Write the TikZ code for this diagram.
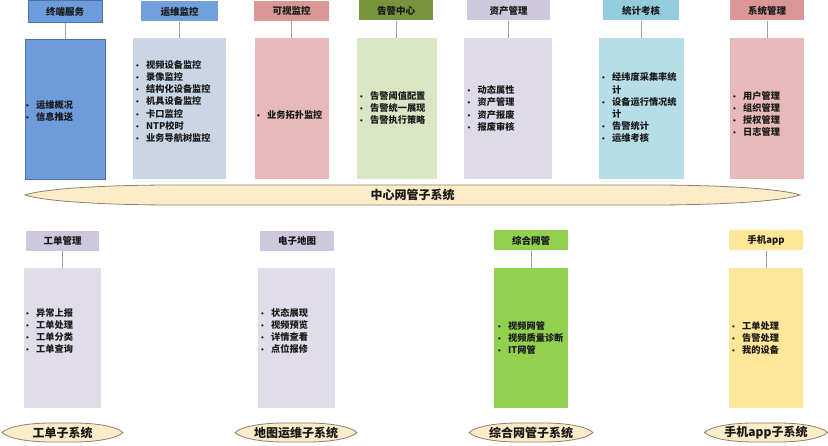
\documentclass[tikz,border=0pt]{standalone}
\usepackage{fontspec}
\setmainfont{Noto Sans CJK SC}
\newfontfamily\bulf{Liberation Sans}
\definecolor{hA}{HTML}{6E9BD9}
\definecolor{bA}{HTML}{6E9BDC}
\definecolor{bdA}{HTML}{4A72A8}
\definecolor{hB}{HTML}{72A0DD}
\definecolor{bB}{HTML}{C9D6E6}
\definecolor{hC}{HTML}{DA9796}
\definecolor{bC}{HTML}{E7B9B8}
\definecolor{hD}{HTML}{77933C}
\definecolor{bD}{HTML}{D9E5C3}
\definecolor{hE}{HTML}{CDC8DC}
\definecolor{bE}{HTML}{DEDAE8}
\definecolor{hF}{HTML}{93CDDD}
\definecolor{bF}{HTML}{B7DDE8}
\definecolor{hG}{HTML}{DA9796}
\definecolor{bG}{HTML}{E7B9B8}
\definecolor{hL}{HTML}{CFC7DD}
\definecolor{bL}{HTML}{E0DCEA}
\definecolor{gN}{HTML}{92D050}
\definecolor{yA}{HTML}{FFE699}
\definecolor{ellfill}{HTML}{FCECC8}
\definecolor{ellborder}{HTML}{8C8272}
\definecolor{linkgray}{HTML}{A0A0A0}
\newcommand\bu{\makebox[10pt][l]{\bulf\mdseries\fontsize{8}{10}\selectfont •}}
% lens-shaped outline: centre x, centre y, half width, half height, taper length
\newcommand\lensshape[5]{%
  \path[lensbox] ({#1-#3},#2)
    .. controls ({#1-#3+0.12*#5},{#2-0.6*#4}) and ({#1-#3+0.5*#5},{#2-#4}) .. ({#1-#3+#5},{#2-#4})
    -- ({#1+#3-#5},{#2-#4})
    .. controls ({#1+#3-0.5*#5},{#2-#4}) and ({#1+#3-0.12*#5},{#2-0.6*#4}) .. ({#1+#3},#2)
    .. controls ({#1+#3-0.12*#5},{#2+0.6*#4}) and ({#1+#3-0.5*#5},{#2+#4}) .. ({#1+#3-#5},{#2+#4})
    -- ({#1-#3+#5},{#2+#4})
    .. controls ({#1-#3+0.5*#5},{#2+#4}) and ({#1-#3+0.12*#5},{#2+0.6*#4}) .. cycle;}
\tikzset{
  hdr/.style={rectangle, inner sep=0pt, minimum height=20pt, font=\bfseries\fontsize{9.5}{11}\selectfont, text=black!90},
  bodybox/.style={rectangle, inner sep=0pt, minimum height=141pt},
  lst/.style={anchor=west, align=left, inner sep=0pt, text=black!90, font=\bfseries\fontsize{9.2}{12.2}\selectfont},
  link/.style={draw=linkgray, line width=1pt},
  lensbox/.style={fill=ellfill, draw=ellborder, line width=0.8pt},
  subtext/.style={inner sep=0pt, text=black!90, font=\bfseries\fontsize{12}{14}\selectfont},
}
\begin{document}
\begin{tikzpicture}[x=1pt,y=-1pt]
\fill[white] (0,0) rectangle (828,446);
\useasboundingbox (0,0) rectangle (828,446);

% ---- top row headers
\node[hdr, fill=hA, draw=bdA, line width=0.6pt, minimum width=74pt, minimum height=22pt] (h1) at (65,11.5) {终端服务};
\node[hdr, fill=hB, minimum width=77pt] (h2) at (179.5,11.5) {运维监控};
\node[hdr, fill=hC, minimum width=75pt] (h3) at (291.5,11) {可视监控};
\node[hdr, fill=hD, minimum width=74pt] (h4) at (396,10.5) {告警中心};
\node[hdr, fill=hE, minimum width=83pt] (h5) at (508.5,10.5) {资产管理};
\node[hdr, fill=hF, minimum width=76pt] (h6) at (641,10.5) {统计考核};
\node[hdr, fill=hG, minimum width=74pt] (h7) at (767,10.5) {系统管理};

% ---- top row bodies
\node[bodybox, fill=bA, draw=bdA, line width=0.6pt, minimum width=80pt, minimum height=140pt] (b1) at (65,109) {};
\node[bodybox, fill=bB, minimum width=93pt] (b2) at (179.5,108.5) {};
\node[bodybox, fill=bC, minimum width=74pt] (b3) at (292,108.5) {};
\node[bodybox, fill=bD, minimum width=80pt] (b4) at (397,108.5) {};
\node[bodybox, fill=bE, minimum width=88pt] (b5) at (508,108.5) {};
\node[bodybox, fill=bF, minimum width=85pt] (b6) at (641.5,108.5) {};
\node[bodybox, fill=bG, minimum width=74pt] (b7) at (767,108.5) {};

\foreach \i in {1,...,7} \draw[link] (h\i.south) -- (h\i.south |- b\i.north);

% ---- top row lists
\node[lst] (l1) at (26,111) {\bu 运维概况\\ \bu 信息推送};
\node[lst] (l2) at (136,101.5) {\bu 视频设备监控\\ \bu 录像监控\\ \bu 结构化设备监控\\ \bu 机具设备监控\\ \bu 卡口监控\\ \bu NTP校时\\ \bu 业务导航树监控};
\node[lst] (l3) at (257,115) {\bu 业务拓扑监控};
\node[lst] (l4) at (360,108) {\bu 告警阈值配置\\ \bu 告警统一展现\\ \bu 告警执行策略};
\node[lst] (l5) at (467.5,108.5) {\bu 动态属性\\ \bu 资产管理\\ \bu 资产报废\\ \bu 报废审核};
\node[lst] (l6) at (602,108) {\bu 经纬度采集率统\\ \hspace*{10pt}计\\ \bu 设备运行情况统\\ \hspace*{10pt}计\\ \bu 告警统计\\ \bu 运维考核};
\node[lst] (l7) at (733,114) {\bu 用户管理\\ \bu 组织管理\\ \bu 授权管理\\ \bu 日志管理};

% ---- central lens
\lensshape{412.5}{195}{387.5}{10}{150}
\node[subtext] (center) at (412.5,195) {中心网管子系统};

% ---- bottom row headers
\node[hdr, fill=hL, minimum width=73pt] (g1) at (62.5,241) {工单管理};
\node[hdr, fill=hL, minimum width=74pt] (g2) at (297,241) {电子地图};
\node[hdr, fill=gN, minimum width=74pt] (g3) at (531,240.5) {综合网管};
\node[hdr, fill=yA, minimum width=74pt] (g4) at (766,240.5) {手机app};

% ---- bottom row bodies
\node[bodybox, fill=bL, minimum width=77pt, minimum height=140pt] (d1) at (62.5,338) {};
\node[bodybox, fill=bL, minimum width=77pt, minimum height=140pt] (d2) at (296.5,338) {};
\node[bodybox, fill=gN, minimum width=74pt, minimum height=140pt] (d3) at (531,338.5) {};
\node[bodybox, fill=yA, minimum width=74pt, minimum height=140pt] (d4) at (766,338.5) {};

\draw[link] (g1.south) -- (g1.south |- d1.north);
\draw[link] (g3.south) -- (g3.south |- d3.north);
\draw[link] (g4.south) -- (g4.south |- d4.north);

% ---- bottom row lists
\node[lst] (m1) at (26,331) {\bu 异常上报\\ \bu 工单处理\\ \bu 工单分类\\ \bu 工单查询};
\node[lst] (m2) at (261,331) {\bu 状态展现\\ \bu 视频预览\\ \bu 详情查看\\ \bu 点位报修};
\node[lst] (m3) at (498,338) {\bu 视频网管\\ \bu 视频质量诊断\\ \bu IT网管};
\node[lst] (m4) at (732,338) {\bu 工单处理\\ \bu 告警处理\\ \bu 我的设备};

% ---- bottom lenses
\lensshape{62.5}{432.5}{60.5}{9.5}{50}
\node[subtext] (s1) at (62.5,432.5) {工单子系统};
\lensshape{296}{432.5}{61}{9.5}{50}
\node[subtext] (s2) at (296,432.5) {地图运维子系统};
\lensshape{531}{432.5}{62}{9.5}{50}
\node[subtext] (s3) at (531,432.5) {综合网管子系统};
\lensshape{766}{432.5}{61.5}{9.5}{50}
\node[subtext] (s4) at (766,432.5) {手机app子系统};
\end{tikzpicture}
\end{document}
